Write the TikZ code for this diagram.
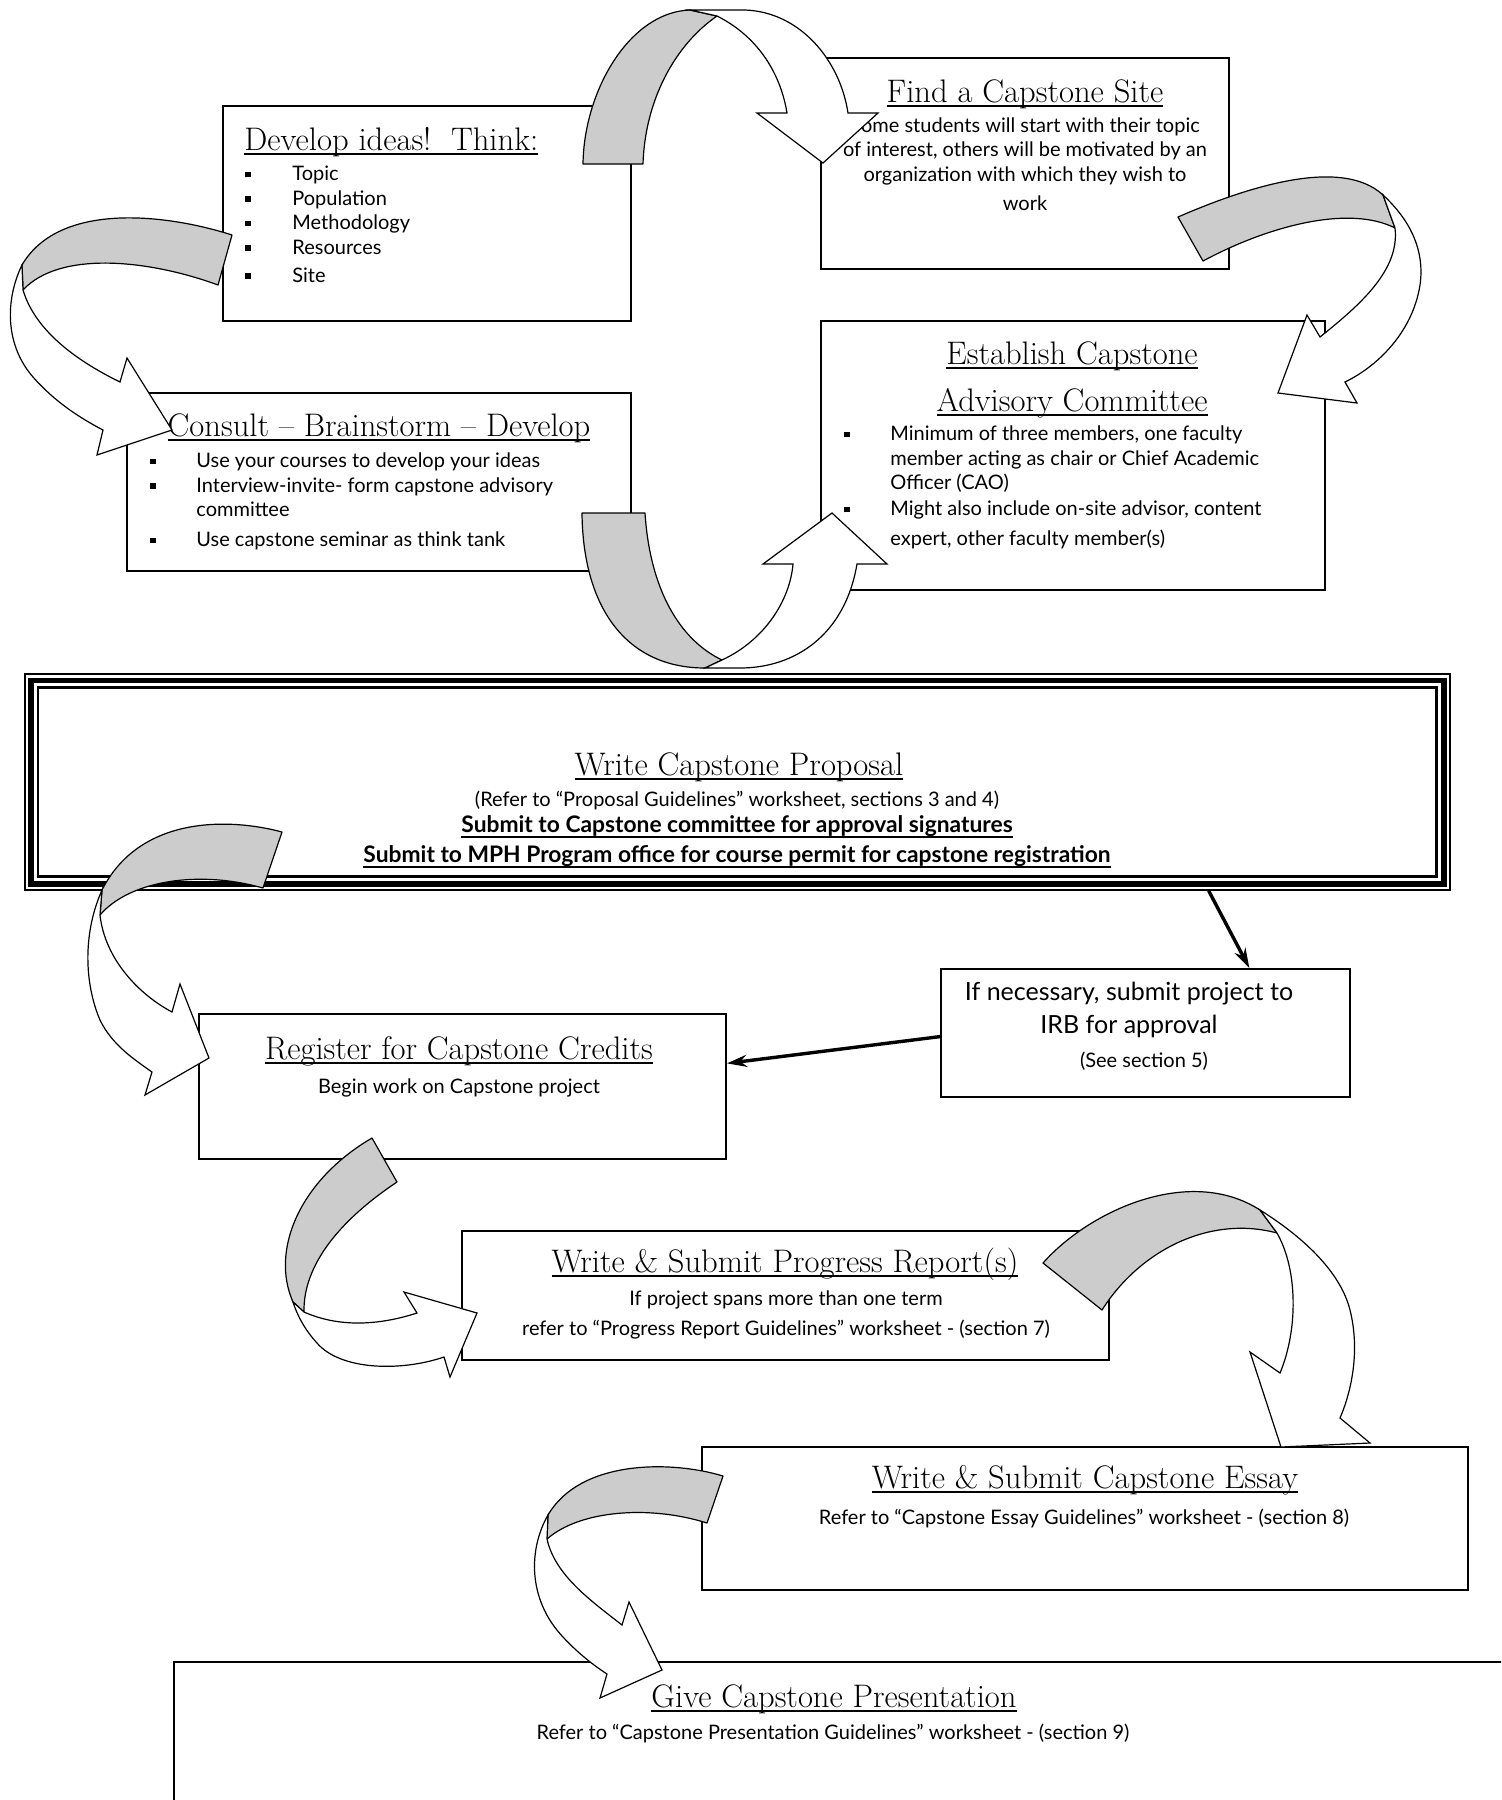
\documentclass[tikz,border=0pt]{standalone}
\usepackage{fontspec}
\newfontfamily\bodyfont{Lato}
\usetikzlibrary{arrows.meta, positioning}

\newcommand{\ulin}[1]{\leavevmode\setbox0=\hbox{#1}\rlap{\rule[-2.3pt]{\wd0}{0.9pt}}\box0}
\newcommand{\sq}{\rule[1.6pt]{2.8pt}{2.8pt}}
\newcommand{\ttlsize}{\fontsize{16.3}{19}\selectfont\addfontfeatures{FakeBold=1.5}}
\newcommand{\txtsize}{\fontsize{10}{12.25}\selectfont}
\newcommand{\boldsize}{\bfseries\fontsize{11.4}{13}\selectfont}

\begin{document}
\begin{tikzpicture}[x=0.5pt, y=-0.5pt,
box/.style={rectangle, draw, line width=0.9pt, fill=white, inner sep=0pt},
ttl/.style={font=\ttlsize, inner sep=0pt, anchor=base},
txt/.style={font=\bodyfont\txtsize, inner sep=0pt, align=center, anchor=north},
lst/.style={font=\bodyfont\txtsize, inner sep=0pt, anchor=north west},
back/.style={draw, fill=black!20, line width=0.6pt, line join=round},
front/.style={draw, fill=white, line width=0.6pt, line join=miter},
arrow/.style={-{Stealth[length=10pt,width=6pt]}, line width=1.7pt}
]
\clip (0,0) rectangle (1501,1800);

% boxes
\node[box, minimum width=204pt, minimum height=107.5pt] (ideas) at (427,213.5) {};
\node[box, minimum width=204pt, minimum height=105.5pt] (site) at (1025,163.5) {};
\node[box, minimum width=252pt, minimum height=89pt] (consult) at (379,482) {};
\node[box, minimum width=252pt, minimum height=134.5pt] (committee) at (1073,455.5) {};
\node[box, line width=0.75pt, minimum width=712.6pt, minimum height=108pt] (proposal) at (737.4,782) {};
\draw[line width=2.75pt] ([shift={(7,7)}]proposal.north west) rectangle ([shift={(-7,-7)}]proposal.south east);
\draw[line width=1.35pt] ([shift={(14,14)}]proposal.north west) rectangle ([shift={(-14,-14)}]proposal.south east);
\node[box, minimum width=204.5pt, minimum height=64pt] (irb) at (1145.5,1033) {};
\node[box, minimum width=263.5pt, minimum height=72.5pt] (register) at (462.5,1086.5) {};
\node[box, minimum width=323.5pt, minimum height=64.5pt] (progress) at (785.5,1295.5) {};
\node[box, minimum width=383pt, minimum height=71.5pt] (essay) at (1085,1518.5) {};
\node[box, minimum width=678pt, minimum height=94pt] (present) at (852,1756) {};

% texts
\node[ttl, anchor=base west] (ideasT) at (244,150) {\ulin{Develop ideas!\ \ Think:}};
\node[lst] (ideasL) at (245,163) {\begin{tabular}{@{}p{23.5pt}@{}l@{}}
\sq & Topic\\ \sq & Population\\ \sq & Methodology\\ \sq & Resources\\[1.75pt] \sq & Site
\end{tabular}};

\node[ttl] (siteT) at (1025,102) {\ulin{Find a Capstone Site}};
\node[txt] (siteX) at (1025,117) {Some students will start with their topic\\of interest, others will be motivated by an\\organization with which they wish to\\[2.5pt]work};

\node[ttl] (consultT) at (379,436) {\ulin{Consult -- Brainstorm -- Develop}};
\node[lst] (consultL) at (149.5,450) {\begin{tabular}{@{}p{23.25pt}@{}l@{}}
\sq & Use your courses to develop your ideas\\ \sq & Interview-invite- form capstone advisory\\ & committee\\[2.75pt] \sq & Use capstone seminar as think tank
\end{tabular}};

\node[ttl, anchor=north, align=center] (committeeT) at (1072,341) {\ulin{Establish Capstone}\\[4.5pt]\ulin{Advisory Committee}};
\node[lst] (committeeL) at (843.5,423) {\begin{tabular}{@{}p{23.25pt}@{}l@{}}
\sq & Minimum of three members, one faculty\\ & member acting as chair or Chief Academic\\ & Officer (CAO)\\[0.75pt] \sq & Might also include on-site advisor, content\\[2.75pt] & expert, other faculty member(s)
\end{tabular}};

\node[ttl] (proposalT) at (739,775) {\ulin{Write Capstone Proposal}};
\node[txt] (proposalX) at (737,791) {(Refer to “Proposal Guidelines” worksheet, sections 3 and 4)\\[0.75pt]\ulin{\boldsize Submit to Capstone committee for approval signatures}\\[2.75pt]\ulin{\boldsize Submit to MPH Program office for course permit for capstone registration}};

\node[txt, font=\bodyfont\fontsize{12.5}{16.5}\selectfont] (irbX) at (1129,982) {If necessary, submit project to\\IRB for approval};
\node[txt, anchor=base] (irbN) at (1144,1067) {(See section 5)};

\node[ttl] (registerT) at (459,1059) {\ulin{Register for Capstone Credits}};
\node[txt, anchor=base] (registerX) at (459,1093) {Begin work on Capstone project};

\node[ttl] (progressT) at (785,1272) {\ulin{Write \& Submit Progress Report(s)}};
\node[txt] (progressX) at (786,1290) {If project spans more than one term\\[2.75pt]refer to “Progress Report Guidelines” worksheet - (section 7)};

\node[ttl] (essayT) at (1085,1488) {\ulin{Write \& Submit Capstone Essay}};
\node[txt, anchor=base] (essayX) at (1084,1524) {Refer to “Capstone Essay Guidelines” worksheet - (section 8)};

\node[ttl] (presentT) at (834,1707) {\ulin{Give Capstone Presentation}};
\node[txt, anchor=base] (presentX) at (833,1739) {Refer to “Capstone Presentation Guidelines” worksheet - (section 9)};

% curved block arrows
\draw[back] (583,164) .. controls (584,90) and (630,12) .. (690,10) -- (717,16) .. controls (675,45) and (645,100) .. (643,164) -- cycle;
\draw[front] (690,10) -- (745,10) .. controls (800,12) and (840,60) .. (848,113) -- (878,113) -- (823,163) -- (757,113) -- (787,113) .. controls (780,70) and (755,35) .. (717,16) -- cycle;

\draw[back] (232,235) .. controls (170,215) and (60,200) .. (22,265) -- (23,290) .. controls (60,250) and (150,260) .. (218,285) -- cycle;
\draw[front] (22,265) .. controls (5,300) and (5,345) .. (33,377) .. controls (55,402) and (80,418) .. (103,430) -- (97,455) -- (172,430) -- (127,358) -- (120,382) .. controls (75,360) and (35,330) .. (23,290) -- cycle;

\draw[back] (1178,217) .. controls (1240,190) and (1340,155) .. (1383,195) -- (1395,228) .. controls (1350,205) and (1270,225) .. (1203,261) -- cycle;
\draw[front] (1383,195) .. controls (1410,220) and (1425,250) .. (1420,285) .. controls (1413,330) and (1380,365) .. (1345,382) -- (1357,403) -- (1278,393) -- (1307,315) -- (1320,337) .. controls (1360,305) and (1400,270) .. (1395,228) -- cycle;

\draw[back] (582,513) -- (645,513) .. controls (650,590) and (680,640) .. (722,660) -- (705,668) .. controls (628,668) and (583,610) .. (582,513) -- cycle;
\draw[front] (722,660) .. controls (765,640) and (790,600) .. (793,564) -- (763,564) -- (832,513) -- (887,564) -- (857,564) .. controls (845,635) and (795,668) .. (740,668) -- (705,668) -- cycle;

\draw[back] (282,832) .. controls (230,818) and (140,815) .. (102,890) -- (100,915) .. controls (130,880) and (200,870) .. (263,888) -- cycle;
\draw[front] (102,890) .. controls (82,935) and (85,985) .. (100,1020) .. controls (112,1045) and (135,1060) .. (152,1072) -- (145,1095) -- (209,1058) -- (180,984) -- (172,1012) .. controls (140,995) and (105,960) .. (100,915) -- cycle;

\draw[back] (372,1138) -- (397,1182) .. controls (340,1220) and (303,1265) .. (304,1312) -- (293,1302) .. controls (270,1250) and (300,1180) .. (372,1138) -- cycle;
\draw[front] (304,1312) .. controls (340,1328) and (380,1325) .. (417,1313) -- (404,1292) -- (477,1313) -- (450,1377) -- (444,1357) .. controls (400,1372) and (340,1370) .. (317,1343) .. controls (305,1330) and (297,1315) .. (293,1302) -- cycle;

\draw[back] (1043,1263) .. controls (1090,1210) and (1190,1165) .. (1260,1210) -- (1277,1233) .. controls (1210,1215) and (1140,1250) .. (1102,1310) -- cycle;
\draw[front] (1260,1210) .. controls (1300,1235) and (1340,1270) .. (1350,1310) .. controls (1360,1350) and (1352,1390) .. (1340,1418) -- (1370,1443) -- (1281,1447) -- (1250,1352) -- (1280,1373) .. controls (1298,1330) and (1298,1270) .. (1277,1233) -- cycle;

\draw[back] (723,1476) .. controls (670,1460) and (580,1460) .. (548,1515) -- (547,1539) .. controls (580,1510) and (650,1505) .. (707,1523) -- cycle;
\draw[front] (548,1515) .. controls (528,1550) and (528,1600) .. (563,1637) .. controls (575,1650) and (590,1663) .. (607,1674) -- (600,1698) -- (662,1670) -- (629,1602) -- (622,1625) .. controls (590,1600) and (555,1575) .. (547,1539) -- cycle;

% straight arrows
\draw[arrow] (proposal.-13) -- (irb.32);
\draw[arrow] (irb.181) -- (register.5);
\end{tikzpicture}
\end{document}
